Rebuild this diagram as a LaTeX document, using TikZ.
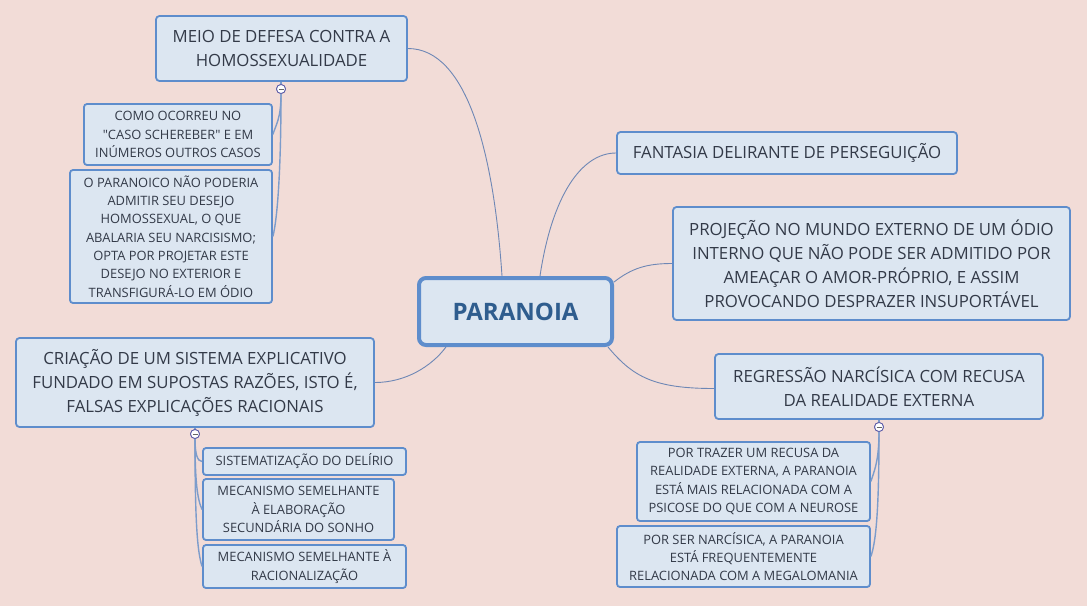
\documentclass[tikz,border=0pt]{standalone}
\usepackage{fontspec}
\setmainfont{Open Sans}[Ligatures=TeXOff]
\definecolor{bgc}{HTML}{F2DCD7}
\definecolor{boxf}{HTML}{DCE6F1}
\definecolor{boxb}{HTML}{5E8DCC}
\definecolor{txt}{HTML}{333A48}
\definecolor{ctr}{HTML}{2F5D8E}
\definecolor{lnk}{HTML}{6E87B5}
\definecolor{sublnk}{HTML}{7C9CCB}
\tikzset{
  topic/.style={draw=boxb, fill=boxf, line width=1.8pt, rounded corners=3.5pt, inner sep=0pt, align=center, text=txt, font=\fontsize{16.8}{24}\selectfont},
  subtopic/.style={draw=boxb, fill=boxf, line width=1.8pt, rounded corners=3pt, inner sep=0pt, align=center, text=txt, font=\fontsize{12.9}{18.3}\selectfont},
  central/.style={draw=boxb, fill=boxf, line width=4pt, rounded corners=7pt, inner sep=0pt, align=center, text=ctr, font=\fontsize{24}{28}\selectfont\bfseries},
  link/.style={draw=lnk, line width=0.9pt},
  sublink/.style={draw=sublnk, line width=1.4pt},
  toggle/.style={circle, draw=gray!70!blue, fill=white, line width=0.8pt, minimum size=9pt, inner sep=0pt},
}
\newcommand{\minus}[1]{\draw[gray!80!black, line width=0.8pt] ($(#1)+(-2.5,0)$) -- ($(#1)+(2.5,0)$);}
\usetikzlibrary{calc}
\begin{document}
\begin{tikzpicture}[x=1pt, y=-1pt]
\fill[bgc] (0,0) rectangle (1087,606);
\useasboundingbox (0,0) rectangle (1087,606);

% central
\node[central, minimum width=193, minimum height=67] (par) at (515.5,311.5) {PARANOIA};

% topics
\node[topic, minimum width=251, minimum height=65] (meio) at (281.5,48.5) {MEIO DE DEFESA CONTRA A\\HOMOSSEXUALIDADE};
\node[topic, minimum width=340, minimum height=42] (fant) at (787,153) {FANTASIA DELIRANTE DE PERSEGUIÇÃO};
\node[topic, minimum width=397, minimum height=113] (proj) at (871.5,263.5) {PROJEÇÃO NO MUNDO EXTERNO DE UM ÓDIO\\INTERNO QUE NÃO PODE SER ADMITIDO POR\\AMEAÇAR O AMOR-PRÓPRIO, E ASSIM\\PROVOCANDO DESPRAZER INSUPORTÁVEL};
\node[topic, minimum width=328, minimum height=65] (regr) at (879,386.5) {REGRESSÃO NARCÍSICA COM RECUSA\\DA REALIDADE EXTERNA};
\node[topic, minimum width=358, minimum height=89] (cria) at (195,382.5) {CRIAÇÃO DE UM SISTEMA EXPLICATIVO\\FUNDADO EM SUPOSTAS RAZÕES, ISTO É,\\FALSAS EXPLICAÇÕES RACIONAIS};

% subtopics
\node[subtopic, minimum width=188, minimum height=61] (como) at (178,134.5) {COMO OCORREU NO\\"CASO SCHEREBER" E EM\\INÚMEROS OUTROS CASOS};
\node[subtopic, minimum width=202, minimum height=133] (opar) at (171,236.5) {O PARANOICO NÃO PODERIA\\ADMITIR SEU DESEJO\\HOMOSSEXUAL, O QUE\\ABALARIA SEU NARCISISMO;\\OPTA POR PROJETAR ESTE\\DESEJO NO EXTERIOR E\\TRANSFIGURÁ-LO EM ÓDIO};
\node[subtopic, minimum width=233, minimum height=79] (trazer) at (753.5,481.5) {POR TRAZER UM RECUSA DA\\REALIDADE EXTERNA, A PARANOIA\\ESTÁ MAIS RELACIONADA COM A\\PSICOSE DO QUE COM A NEUROSE};
\node[subtopic, minimum width=253, minimum height=61] (porser) at (743.5,556.5) {POR SER NARCÍSICA, A PARANOIA\\ESTÁ FREQUENTEMENTE\\RELACIONADA COM A MEGALOMANIA};
\node[subtopic, minimum width=203, minimum height=27] (sist) at (304.5,461.5) {SISTEMATIZAÇÃO DO DELÍRIO};
\node[subtopic, minimum width=191, minimum height=61] (mec1) at (298.5,509.5) {MECANISMO SEMELHANTE\\À ELABORAÇÃO\\SECUNDÁRIA DO SONHO};
\node[subtopic, minimum width=203, minimum height=43] (mec2) at (304.5,566.5) {MECANISMO SEMELHANTE À\\RACIONALIZAÇÃO};

% toggles
\node[toggle] (t1) at (281,89) {};
\node[toggle] (t2) at (879,427) {};
\node[toggle] (t3) at (195,434) {};

% main links
\draw[link] ($(par.north west)+(85,0)$) .. controls +(-8,-120) and +(60,0) .. (meio.east);
\draw[link] ($(par.north west)+(123,0)$) .. controls +(12,-80) and +(-35,0) .. (fant.west);
\draw[link] ($(par.north east)+(0,6)$) .. controls +(18,-14) and +(-25,0) .. (proj.west);
\draw[link] ($(par.south east)+(-6,0)$) .. controls +(25,30) and +(-60,0) .. ($(regr.west)+(0,2)$);
\draw[link] ($(par.south west)+(29,0)$) .. controls +(-15,20) and +(30,0) .. (cria.east);

% sub links
\draw[sublink] (meio.south -| t1) -- (t1.north);
\draw[sublink] (t1.south) .. controls +(0,25) and +(3,-10) .. (como.east);
\draw[sublink] (t1.south) .. controls +(0,70) and +(5,-20) .. (opar.east);
\draw[sublink] (regr.south -| t2) -- (t2.north);
\draw[sublink] (t2.south) .. controls +(0,30) and +(3,-10) .. (trazer.east);
\draw[sublink] (t2.south) .. controls +(0,80) and +(5,-15) .. (porser.east);
\draw[sublink] (cria.south -| t3) -- (t3.north);
\draw[sublink] (t3.south) .. controls +(0,14) and +(-5,0) .. (sist.west);
\draw[sublink] (t3.south) .. controls +(0,40) and +(-5,-10) .. (mec1.west);
\draw[sublink] (t3.south) .. controls +(0,80) and +(-5,-15) .. (mec2.west);

% redraw toggles on top
\node[toggle] at (t1) {}; \minus{t1}
\node[toggle] at (t2) {}; \minus{t2}
\node[toggle] at (t3) {}; \minus{t3}
\end{tikzpicture}
\end{document}
